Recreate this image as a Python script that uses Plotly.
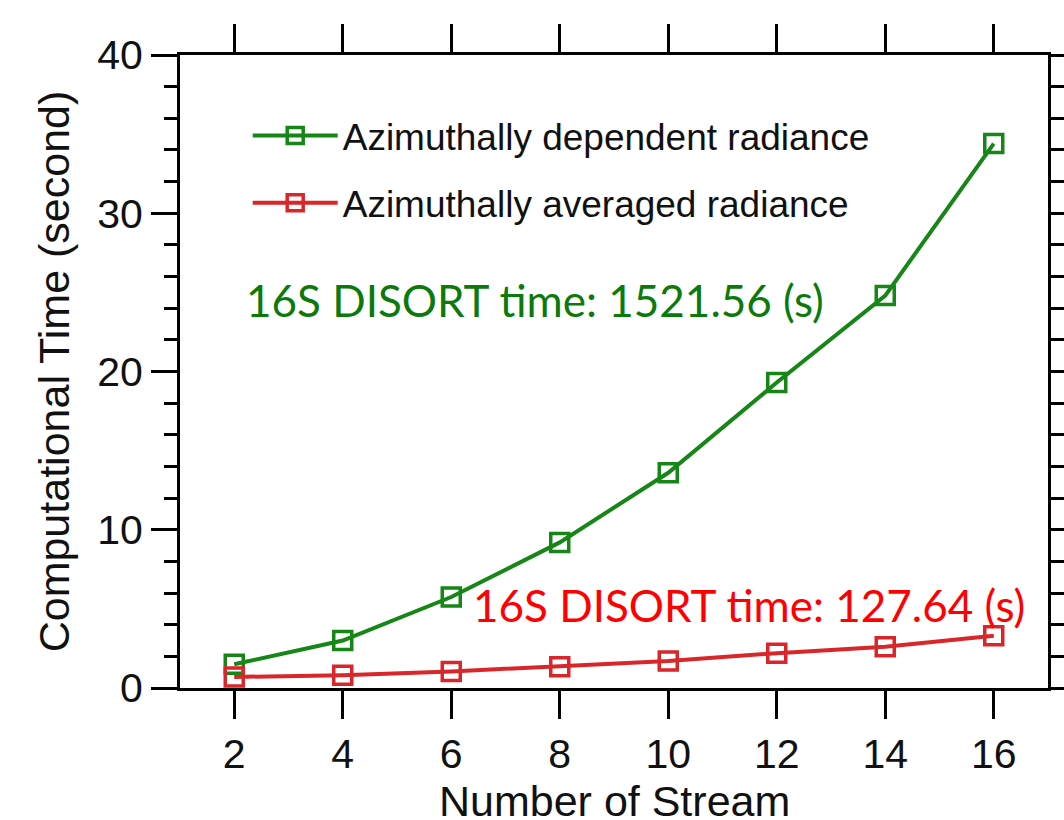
import plotly.graph_objects as go

streams = [2, 4, 6, 8, 10, 12, 14, 16]
dependent_time = [1.5, 3.0, 5.75, 9.2, 13.6, 19.3, 24.8, 34.4]
averaged_time = [0.7, 0.8, 1.05, 1.35, 1.7, 2.2, 2.6, 3.3]
series_names = ["Azimuthally dependent radiance", "Azimuthally averaged radiance"]
x_ticks = [2, 4, 6, 8, 10, 12, 14, 16]
y_ticks = [0, 10, 20, 30, 40]
x_title = "Number of Stream"
y_title = "Computational Time (second)"
note_dependent = "16S DISORT time: 1521.56 (s)"
note_averaged = "16S DISORT time: 127.64 (s)"

GREEN = "#168616"
RED = "#d8262a"
AX_FONT = "Liberation Sans, Arial, sans-serif"

fig = go.Figure()
fig.add_trace(go.Scatter(
    x=streams, y=dependent_time, mode="lines+markers", name=series_names[0],
    legendgroup="a",
    line=dict(color=GREEN, width=4),
    marker=dict(symbol="square-open", size=18, color=GREEN, line=dict(width=3.5, color=GREEN)),
))
fig.add_trace(go.Scatter(
    x=streams, y=averaged_time, mode="lines+markers", name=series_names[1],
    legendgroup="b",
    line=dict(color=RED, width=4),
    marker=dict(symbol="square-open", size=18, color=RED, line=dict(width=3.5, color=RED)),
))

fig.add_annotation(x=2.18, y=24.5, xref="x", yref="y", text=note_dependent,
                   showarrow=False, xanchor="left", yanchor="middle",
                   font=dict(family="Lato, Carlito, sans-serif", size=44, color="#0b7a0b"))
fig.add_annotation(x=6.36, y=5.24, xref="x", yref="y", text=note_averaged,
                   showarrow=False, xanchor="left", yanchor="middle",
                   font=dict(family="Lato, Carlito, sans-serif", size=44, color="#ff0000"))
# x-axis title placed as paper annotation below the tick labels
fig.add_annotation(x=0.5, y=-0.137, xref="paper", yref="paper", text=x_title,
                   showarrow=False, xanchor="center", yanchor="top",
                   font=dict(family=AX_FONT, size=43, color="#111111"))

fig.update_layout(
    width=1064, height=820,
    margin=dict(l=180, r=16, t=55, b=132, autoexpand=False),
    paper_bgcolor="white", plot_bgcolor="white",
    font=dict(family=AX_FONT, color="#111111"),
    showlegend=True,
    legend=dict(x=0.078, y=0.921, xanchor="left", yanchor="top",
                xref="paper", yref="paper",
                font=dict(size=37, family=AX_FONT, color="#111111"),
                bgcolor="rgba(0,0,0,0)", traceorder="grouped", tracegroupgap=16,
                itemwidth=85),
)
fig.update_xaxes(
    range=[1, 17], tickvals=x_ticks, ticks="outside", ticklen=28, tickwidth=3,
    tickcolor="black", showline=True, linewidth=3, linecolor="black", mirror="ticks",
    showgrid=False, zeroline=False, automargin=False,
    tickfont=dict(size=41, family=AX_FONT, color="#111111"),
)
fig.update_yaxes(
    range=[0, 40], tickvals=y_ticks, ticks="outside", ticklen=26, tickwidth=3,
    tickcolor="black", showline=True, linewidth=3, linecolor="black", mirror="ticks",
    showgrid=False, zeroline=False, automargin=False,
    minor=dict(dtick=2, ticks="outside", ticklen=13, tickwidth=3, tickcolor="black", showgrid=False),
    tickfont=dict(size=41, family=AX_FONT, color="#111111"),
    title=dict(text=y_title, font=dict(size=43, family=AX_FONT, color="#111111")),
)

fig.write_html("out.html")
